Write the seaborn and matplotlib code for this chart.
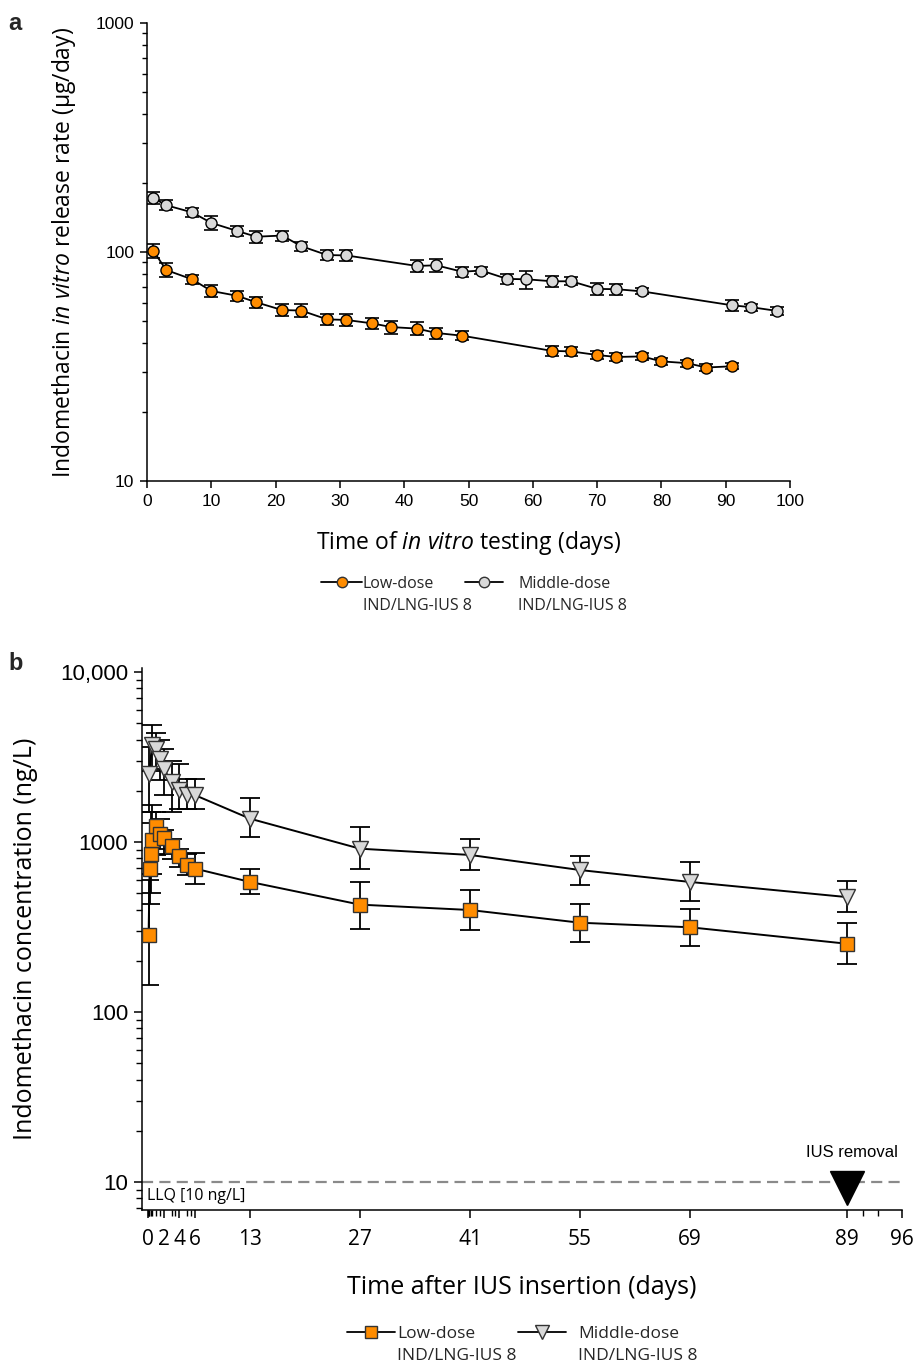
import numpy as np
import pandas as pd
import matplotlib
matplotlib.use("Agg")
import matplotlib.pyplot as plt
import seaborn as sns
from matplotlib.lines import Line2D
from matplotlib import ticker, transforms

# ---------------- data: panel a (in vitro release rate, ug/day) ----------------
days_a_low = [1, 3, 7, 10, 14, 17, 21, 24, 28, 31, 35, 38, 42, 45, 49,
              63, 66, 70, 73, 77, 80, 84, 87, 91]
rate_a_low = [101, 83.4, 76, 67.6, 64.4, 60.3, 55.8, 55.5, 50.8, 50.5, 48.8, 47.0,
              46.3, 44.3, 43.1, 37.0, 36.8, 35.5, 34.8, 35.0, 33.3, 32.7, 31.3, 31.7]
sd_a_low = [7, 6, 3.5, 4, 3.5, 3.5, 3.5, 3.5, 3, 3, 2.5, 3, 3, 2.5, 2,
            2, 1.5, 1.5, 1.5, 1.2, 1.2, 1.2, 1, 1]

days_a_mid = [1, 3, 7, 10, 14, 17, 21, 24, 28, 31, 42, 45, 49, 52, 56, 59,
              63, 66, 70, 73, 77, 91, 94, 98]
rate_a_mid = [172, 160, 149, 134, 123.6, 116.6, 118, 106, 97, 96.6, 86.9, 87.5,
              82, 83, 76.3, 76, 74.5, 74.5, 69, 68.8, 67.3, 58.5, 57.4, 55.3]
sd_a_mid = [10, 8, 7, 9, 6, 7, 6, 5, 5, 5, 5, 6, 4, 3, 4, 7, 4, 3, 4, 4, 2, 3, 2, 2]

# ---------------- data: panel b (plasma concentration, ng/L) ----------------
days_b_low = [0.08, 0.21, 0.33, 0.5, 1, 1.5, 2, 3, 4, 5, 6, 13, 27, 41, 55, 69, 89]
conc_b_low = [282, 697, 853, 1027, 1242, 1119, 1056, 943, 827, 736, 697,
              582, 428, 398, 335, 315, 252]
lo_b_low = [144, 430, 500, 650, 840, 913, 853, 798, 713, 637, 568,
            494, 309, 302, 258, 243, 191]
hi_b_low = [600, 1300, 1500, 1650, 1500, 1370, 1177, 1046, 913, 853, 865,
            697, 582, 522, 430, 405, 334]

days_b_mid = [0.17, 0.5, 1, 1.5, 2, 3, 4, 5, 6, 13, 27, 41, 55, 69, 89]
conc_b_mid = [2520, 3700, 3540, 3090, 2700, 2250, 2010, 1900, 1885,
              1371, 913, 839, 684, 582, 474]
lo_b_mid = [1500, 2600, 2700, 2300, 1900, 1500, 1570, 1570, 1570,
            1070, 697, 681, 556, 450, 388]
hi_b_mid = [3600, 4900, 4400, 4000, 3500, 3000, 2886, 2356, 2356,
            1823, 1225, 1046, 824, 763, 590]

llq = 10
removal_day = 89

xticks_a = [0, 10, 20, 30, 40, 50, 60, 70, 80, 90, 100]
yticks_a = [10, 100, 1000]
xticks_b = [0, 2, 4, 6, 13, 27, 41, 55, 69, 89, 96]
xminor_b = [0.04, 0.08, 0.17, 0.33, 0.5, 1, 1.5, 3, 3.5, 5, 5.5, 91, 93]
yticks_b = [10, 100, 1000, 10000]
yticklabels_b = ["10", "100", "1000", "10,000"]

series_names = ["Low-dose", "Middle-dose"]
legend_sub = "IND/LNG-IUS 8"

ORANGE = "#FF8C00"
GREY = "#D9D9D9"

# ---------------- style ----------------
sns.set_theme(style="ticks")
plt.rcParams['font.family'] = ['Open Sans', 'DejaVu Sans']
plt.rcParams['mathtext.fontset'] = 'custom'
plt.rcParams['mathtext.rm'] = 'Open Sans'
plt.rcParams['mathtext.it'] = 'Open Sans:italic'
plt.rcParams['lines.scale_dashes'] = False
plt.rcParams['axes.linewidth'] = 1.1

W, H = 914, 1366
fig = plt.figure(figsize=(W / 100, H / 100), dpi=100)
fig.patch.set_facecolor("white")

def fx(px):
    return px / W

def fy(py):
    return 1 - py / H

axA = fig.add_axes([fx(147), fy(481), fx(790) - fx(147), fy(23) - fy(481)])
axB = fig.add_axes([fx(142), fy(1210), fx(902) - fx(142), fy(668) - fy(1210)])

for ax in (axA, axB):
    ax.set_facecolor("white")
    sns.despine(ax=ax)
    for s in ("left", "bottom"):
        ax.spines[s].set_color("black")
        ax.spines[s].set_linewidth(1.1)

# ---------------- panel a ----------------
df_a_low = pd.DataFrame({"day": days_a_low, "rate": rate_a_low})
df_a_mid = pd.DataFrame({"day": days_a_mid, "rate": rate_a_mid})

axA.errorbar(days_a_mid, rate_a_mid, yerr=sd_a_mid, fmt="none", ecolor="black",
             elinewidth=1.2, capsize=5, capthick=1.2, zorder=2)
sns.lineplot(data=df_a_mid, x="day", y="rate", ax=axA, color="black", lw=1.3,
             marker="o", markersize=8, markerfacecolor=GREY,
             markeredgecolor="black", markeredgewidth=1.0, sort=False,
             errorbar=None, zorder=3)
axA.errorbar(days_a_low, rate_a_low, yerr=sd_a_low, fmt="none", ecolor="black",
             elinewidth=1.2, capsize=5, capthick=1.2, zorder=4)
sns.lineplot(data=df_a_low, x="day", y="rate", ax=axA, color="black", lw=1.3,
             marker="o", markersize=8, markerfacecolor=ORANGE,
             markeredgecolor="black", markeredgewidth=1.0, sort=False,
             errorbar=None, zorder=5)

axA.set_yscale("log")
axA.set_xlim(0, 100)
axA.set_ylim(10, 1000)
axA.set_xticks(xticks_a)
axA.set_xticklabels([str(v) for v in xticks_a], fontfamily="Liberation Sans", fontsize=12.5)
axA.set_yticks(yticks_a)
axA.set_yticklabels([str(v) for v in yticks_a], fontfamily="Liberation Sans", fontsize=12.5)
axA.yaxis.set_minor_locator(ticker.LogLocator(base=10, subs=np.arange(2, 10)))
axA.yaxis.set_minor_formatter(ticker.NullFormatter())
axA.tick_params(axis="both", which="major", direction="out", length=5, width=1.1,
                colors="black", pad=4)
axA.tick_params(axis="y", which="minor", direction="out", length=3.5, width=1.0,
                colors="black")
axA.set_xlabel(r"Time of $\mathit{in\ vitro}$ testing (days)", fontsize=16.5, labelpad=15,
               color="black")
axA.set_ylabel(r"Indomethacin $\mathit{in\ vitro}$ release rate (µg/day)", fontsize=16.5,
               labelpad=13, color="black")
axA.grid(False)

# ---------------- panel b ----------------
df_b_low = pd.DataFrame({"day": days_b_low, "conc": conc_b_low})
df_b_mid = pd.DataFrame({"day": days_b_mid, "conc": conc_b_mid})

c_mid = np.array(conc_b_mid)
c_low = np.array(conc_b_low)
axB.errorbar(days_b_mid, conc_b_mid,
             yerr=[c_mid - np.array(lo_b_mid), np.array(hi_b_mid) - c_mid],
             fmt="none", ecolor="black", elinewidth=1.3, capsize=7, capthick=1.3, zorder=2)
sns.lineplot(data=df_b_mid, x="day", y="conc", ax=axB, color="black", lw=1.4,
             marker="v", markersize=11.5, markerfacecolor=GREY,
             markeredgecolor="#333333", markeredgewidth=1.0, sort=False,
             errorbar=None, zorder=3)
axB.errorbar(days_b_low, conc_b_low,
             yerr=[c_low - np.array(lo_b_low), np.array(hi_b_low) - c_low],
             fmt="none", ecolor="black", elinewidth=1.3, capsize=7, capthick=1.3, zorder=4)
sns.lineplot(data=df_b_low, x="day", y="conc", ax=axB, color="black", lw=1.4,
             marker="s", markersize=9.5, markerfacecolor=ORANGE,
             markeredgecolor="#333333", markeredgewidth=1.0, sort=False,
             errorbar=None, zorder=5)

axB.axhline(llq, color="#8a8a8a", lw=1.6, linestyle=(0, (8, 4.5)), zorder=1)

off = transforms.offset_copy(axB.transData, fig=fig, x=0, y=-6.5, units="dots")
axB.plot([removal_day], [llq], marker="v", markersize=24, color="black",
         markeredgecolor="black", linestyle="none", transform=off, clip_on=False, zorder=6)
axB.annotate("IUS removal", xy=(removal_day, llq), xytext=(3.5, 18),
             textcoords="offset points", ha="center", va="baseline",
             fontsize=12, fontfamily="Liberation Sans", color="black")
axB.annotate("LLQ [10 ng/L]", xy=(0, llq), xytext=(-0.5, -4),
             textcoords="offset points", ha="left", va="top",
             fontsize=11.5, color="black")

axB.set_yscale("log")
axB.set_xlim(-0.76, 96)
axB.set_ylim(6.84, 10556)
axB.set_xticks(xticks_b)
axB.set_xticklabels([str(v) for v in xticks_b], fontsize=15)
axB.set_xticks(xminor_b, minor=True)
axB.set_yticks(yticks_b)
axB.set_yticklabels(yticklabels_b, fontfamily="Liberation Sans", fontsize=16)
axB.yaxis.set_minor_locator(ticker.LogLocator(base=10, subs=np.arange(2, 10)))
axB.yaxis.set_minor_formatter(ticker.NullFormatter())
axB.tick_params(axis="y", which="major", direction="out", length=6, width=1.1,
                colors="black", pad=4)
axB.tick_params(axis="x", which="major", direction="out", length=5.5, width=1.1,
                colors="black", pad=8)
axB.tick_params(axis="both", which="minor", direction="out", length=4, width=1.0,
                colors="black")
axB.set_xlabel("Time after IUS insertion (days)", fontsize=18, labelpad=18, color="black")
axB.set_ylabel("Indomethacin concentration (ng/L)", fontsize=18, labelpad=16, color="black")
axB.grid(False)

# ---------------- panel letters ----------------
fig.text(fx(8), fy(30), "a", fontsize=17, fontweight="bold", fontfamily="Liberation Sans")
fig.text(fx(8), fy(670), "b", fontsize=17, fontweight="bold", fontfamily="Liberation Sans")

# ---------------- manual legends ----------------
def legend_entry(x0, x1, y, text_x, base1, base2, name, marker, ms, fc, fs):
    fig.add_artist(Line2D([fx(x0), fx(x1)], [fy(y), fy(y)], transform=fig.transFigure,
                          color="black", lw=1.3))
    fig.add_artist(Line2D([fx((x0 + x1) / 2)], [fy(y)], transform=fig.transFigure,
                          marker=marker, markersize=ms, markerfacecolor=fc,
                          markeredgecolor="#333333", markeredgewidth=1.0,
                          linestyle="none"))
    fig.text(fx(text_x), fy(base1), name, fontsize=fs, va="baseline", ha="left")
    fig.text(fx(text_x), fy(base2), legend_sub, fontsize=fs, va="baseline", ha="left")

legend_entry(321, 362, 582, 363, 588, 610, series_names[0], "o", 7.5, ORANGE, 11.5)
legend_entry(465, 503, 582, 518, 588, 610, series_names[1], "o", 7.5, GREY, 11.5)
legend_entry(347, 395, 1332, 397, 1338, 1360, series_names[0], "s", 8.5, ORANGE, 12.5)
legend_entry(518, 566, 1332, 578, 1338, 1360, series_names[1], "v", 9.5, GREY, 12.5)

fig.savefig("out.png", dpi=100, facecolor="white")
